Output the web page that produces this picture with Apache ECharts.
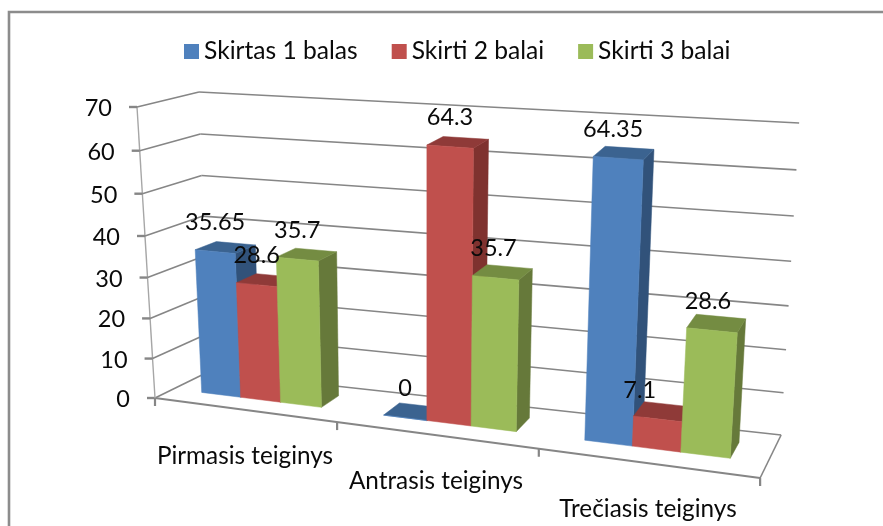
<!DOCTYPE html>
<html><head><meta charset="utf-8">
<style>html,body{margin:0;padding:0;background:#fff;overflow:hidden}#c{width:883px;height:526px}</style>
<script src="https://cdn.jsdelivr.net/npm/echarts@6/dist/echarts.min.js"></script>
</head><body><div id="c"></div>
<script>
const categories = ['Pirmasis teiginys', 'Antrasis teiginys', 'Trečiasis teiginys'];
const skirtas1 = [35.65, 0, 64.35];
const skirti2 = [28.6, 64.3, 7.1];
const skirti3 = [35.7, 35.7, 28.6];
const valueTicks = [0, 10, 20, 30, 40, 50, 60, 70];

const FONT = 'Lato, "Open Sans", sans-serif';
const TEXT = '#0a0a0a';
const LINE = '#868686';
const palette = [
  {front:'#4F81BD', side:'#31527A', top:'#3B6390'},
  {front:'#C0504D', side:'#7F322F', top:'#8F3A38'},
  {front:'#9BBB59', side:'#66793A', top:'#748C42'}
];
// projected corners of the 3D box
const C = {
  FL0:[155,398], FL1:[137,107], FR0:[760,478], FR1:[781,153],
  BL0:[208,372], BL1:[199,92],  BR0:[781,435], BR1:[799,123]
};
const mix=(a,b,t)=>[a[0]+(b[0]-a[0])*t,a[1]+(b[1]-a[1])*t];
// perspective warps; u: 0..1 along categories, t: 0..1 of value range, w: 0 front..1 back
function project(u,t,w){
  const f=0.8544*u+0.1458*u*u;
  const g=0.94*t+0.06*t*t;
  const F=mix(mix(C.FL0,C.FR0,f),mix(C.FL1,C.FR1,f),g);
  const B=mix(mix(C.BL0,C.BR0,f),mix(C.BL1,C.BR1,f),g);
  return mix(F,B,w);
}
const W0=0.35, W1=0.73, GAP=0.165, BARW=0.2233;
// pixel in the hidden grid -> normalised box coordinates
function norm(params,api,cat,val,shift){
  const cs=params.coordSys;
  const p=api.coord([cat,val]);
  const band=api.size([1,0])[0];
  return [(p[0]+shift*band-cs.x)/cs.width,(cs.y+cs.height-p[1])/cs.height];
}
function poly(points,fill){
  return {type:'polygon',shape:{points},style:{fill,stroke:fill,lineWidth:0.5}};
}
function barSeries(name,values,idx){
  const col=palette[idx];
  return {
    type:'custom',name,z:3,coordinateSystem:'cartesian2d',
    itemStyle:{color:col.front},
    data:categories.map((c,i)=>[c,values[i]]),
    encode:{x:0,y:1},
    renderItem(params,api){
      const cat=api.value(0), val=api.value(1);
      const sh=-0.5+GAP+BARW*idx;
      const a=norm(params,api,cat,0,sh), b=norm(params,api,cat,val,sh+BARW);
      const u0=a[0],u1=b[0],t0=a[1],t1=b[1];
      const P=project;
      return {type:'group',children:[
        poly([P(u1,t0,W0),P(u1,t0,W1),P(u1,t1,W1),P(u1,t1,W0)],col.side),
        poly([P(u0,t1,W0),P(u1,t1,W0),P(u1,t1,W1),P(u0,t1,W1)],col.top),
        poly([P(u0,t0,W0),P(u1,t0,W0),P(u1,t1,W0),P(u0,t1,W0)],col.front)
      ]};
    }
  };
}
function labelSeries(name,values,idx,dx){
  return {
    type:'custom',name,z:5,silent:true,
    data:categories.map((c,i)=>[c,values[i]]),
    encode:{x:0,y:1},
    renderItem(params,api){
      const cat=api.value(0), val=api.value(1);
      const sh=-0.5+GAP+BARW*(idx+0.5);
      const n=norm(params,api,cat,val,sh);
      const p=project(n[0],n[1],W0);
      return {type:'text',x:p[0]+(dx[params.dataIndex]||0),y:p[1]-29,
        style:{text:String(val),font:'23.5px '+FONT,fill:TEXT,align:'center',verticalAlign:'middle'}};
    }
  };
}
const line=(a,b,w,col)=>({type:'line',shape:{x1:a[0],y1:a[1],x2:b[0],y2:b[1]},style:{stroke:col||LINE,lineWidth:w||1.6}});

const frameSeries={
  type:'custom',name:'frame',z:1,silent:true,
  data:valueTicks.map(v=>['Pirmasis teiginys',v]),
  encode:{x:0,y:1},
  renderItem(params,api){
    const cs=params.coordSys;
    const t=(cs.y+cs.height-api.coord([0,api.value(1)])[1])/cs.height;
    const a=project(0,t,0),b=project(0,t,1),c=project(1,t,1);
    const kids=[line(a,b),line(b,c),line([a[0]-8,a[1]],a,2.4)];
    kids.push({type:'text',x:a[0]-25,y:a[1]+1.5,style:{text:String(api.value(1)),font:'23.5px '+FONT,fill:TEXT,align:'right',verticalAlign:'middle'}});
    if(params.dataIndex===0){
      kids.push(line(project(0,0,0),project(1,0,0),2.2),line(project(1,0,0),project(1,0,1)),
                line(project(0,0,0),project(0,1,0),1.4,'#a6a6a6'));
      [0,1/3,2/3,1].forEach(u=>{const q=project(u,0,0);kids.push(line(q,[q[0],q[1]+8],2.2));});
    }
    return {type:'group',children:kids};
  }
};
const catLabelY=[456,481,509], catLabelX=[245,436,648];
const catSeries={
  type:'custom',name:'categories',z:2,silent:true,
  data:categories.map(c=>[c,0]),
  encode:{x:0,y:1},
  renderItem(params,api){
    const i=params.dataIndex;
    return {type:'text',x:catLabelX[i],y:catLabelY[i],
      style:{text:categories[i],font:'24.3px '+FONT,fill:TEXT,align:'center',verticalAlign:'middle'}};
  }
};
const names=['Skirtas 1 balas','Skirti 2 balai','Skirti 3 balai'];
const chart=echarts.init(document.getElementById('c'),null,{renderer:'canvas'});
chart.setOption({
  animation:false,backgroundColor:'#fff',
  graphic:[{type:'rect',shape:{x:9,y:12,width:1200,height:1000},style:{fill:'none',stroke:'#8c8c8c',lineWidth:2.6},silent:true}],
  legend:{data:names,left:184,top:39,padding:0,itemWidth:15,itemHeight:15,itemGap:34,icon:'rect',
    textStyle:{fontFamily:FONT,fontSize:24.6,color:TEXT}},
  grid:{left:0,right:0,top:0,bottom:0,containLabel:false},
  xAxis:{type:'category',data:categories,show:false},
  yAxis:{type:'value',min:0,max:70,interval:10,show:false},
  series:[frameSeries,catSeries,
    barSeries(names[0],skirtas1,0),barSeries(names[1],skirti2,1),barSeries(names[2],skirti3,2),
    labelSeries('l1',skirtas1,0,[0,0,-5]),labelSeries('l2',skirti2,1,[0,0,-18]),labelSeries('l3',skirti3,2,[0,-2,-4])]
});
</script></body></html>
